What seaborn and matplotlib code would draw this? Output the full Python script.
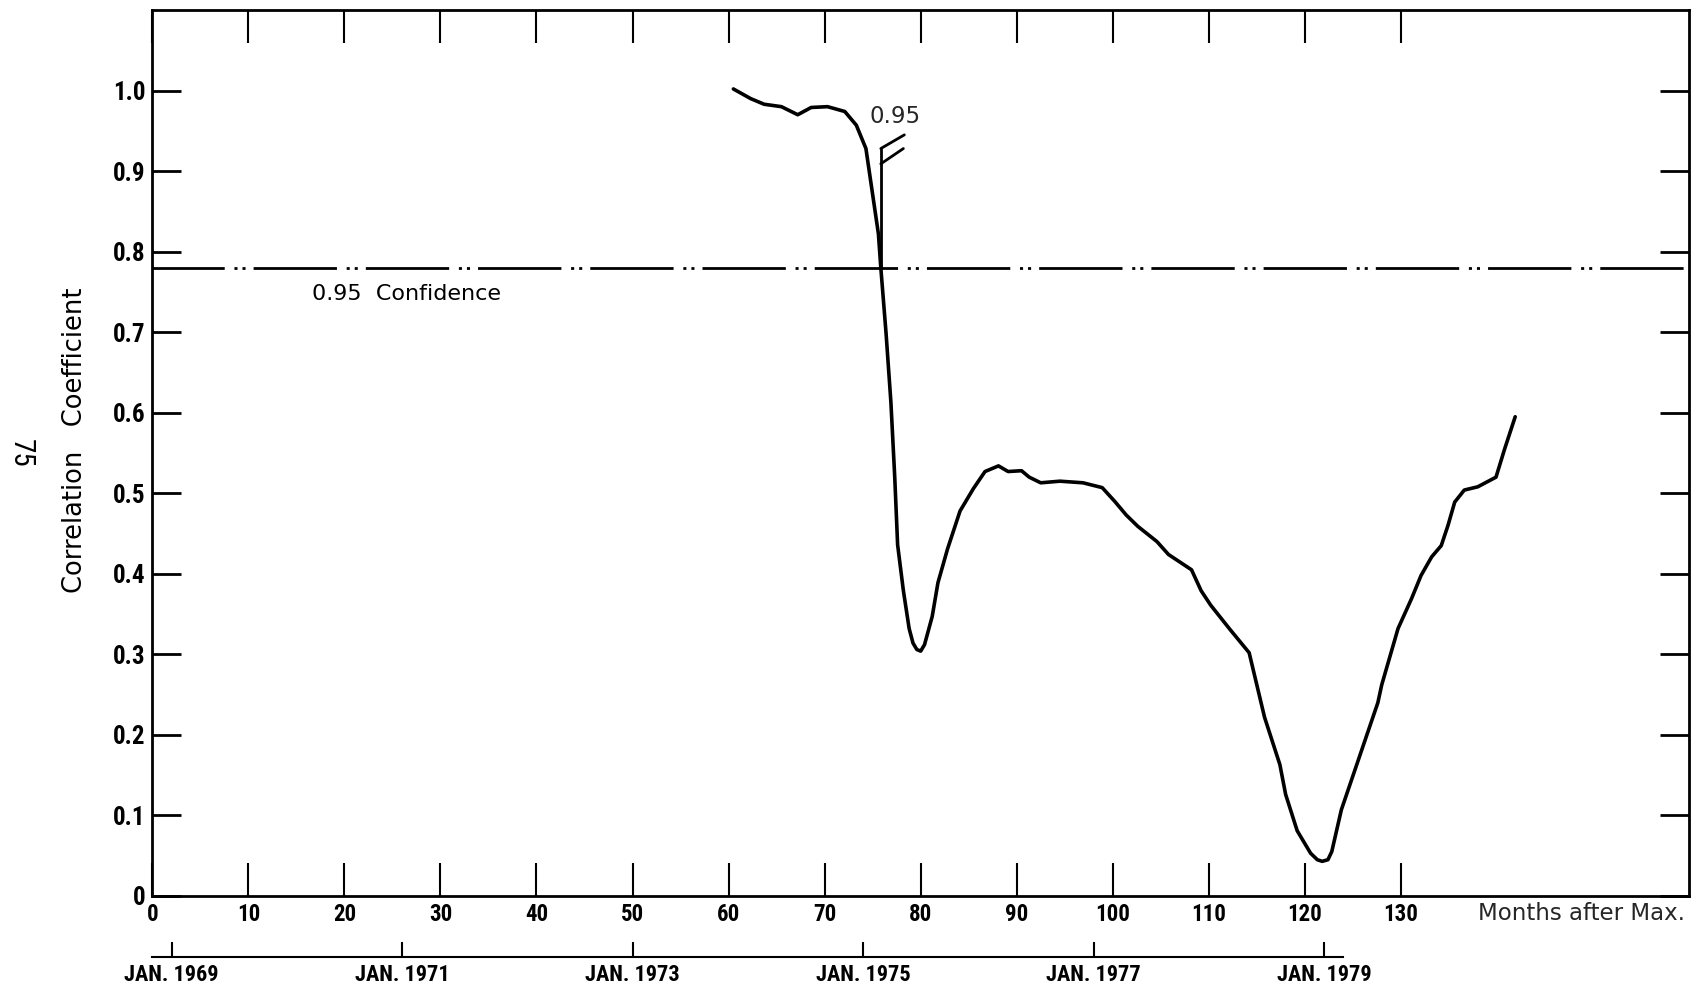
import matplotlib
matplotlib.use("Agg")
import matplotlib.pyplot as plt
import matplotlib.transforms as mtransforms
from matplotlib import font_manager
import pandas as pd
import seaborn as sns

# Correlation coefficient against months after maximum
months = [60.5, 62.3, 63.7, 65.5, 67.2, 68.6, 70.3, 72.1, 73.3, 74.3, 74.9, 75.6,
          75.85, 76.4, 76.9, 77.3, 77.6, 78.2, 78.8, 79.2, 79.6, 80.0, 80.4, 81.2, 81.8,
          82.8, 84.1, 85.5, 86.7, 88.1, 89.1, 90.5, 91.3, 92.5, 94.5, 96.9, 98.9, 100.2,
          101.4, 102.6, 104.6, 105.8, 108.2, 109.2, 110.2, 112.2, 114.2, 115.0, 115.8,
          117.4, 118.0, 119.2, 120.6, 121.3, 121.8, 122.4, 122.8, 123.8, 125.0, 126.0,
          127.6, 128.0, 129.7, 131.1, 132.1, 133.2, 134.2, 134.9, 135.6, 136.6, 138.0,
          139.9, 140.8, 141.9]
corr = [1.002, 0.990, 0.983, 0.980, 0.970, 0.979, 0.980, 0.974, 0.957, 0.928, 0.879, 0.822,
        0.780, 0.698, 0.613, 0.520, 0.436, 0.379, 0.332, 0.314, 0.306, 0.304, 0.312, 0.347,
        0.389, 0.431, 0.478, 0.506, 0.527, 0.534, 0.527, 0.528, 0.520, 0.513, 0.515, 0.513,
        0.507, 0.490, 0.473, 0.459, 0.440, 0.424, 0.405, 0.379, 0.361, 0.331, 0.302, 0.262,
        0.222, 0.163, 0.126, 0.081, 0.053, 0.045, 0.043, 0.045, 0.055, 0.107, 0.149, 0.184,
        0.240, 0.262, 0.332, 0.369, 0.398, 0.421, 0.435, 0.460, 0.489, 0.504, 0.508, 0.520,
        0.555, 0.595]

confidence_level = 0.78
confidence_label = "0.95  Confidence"
crossing_label = "0.95"

x_ticks = [0, 10, 20, 30, 40, 50, 60, 70, 80, 90, 100, 110, 120, 130]
y_ticks = [0.0, 0.1, 0.2, 0.3, 0.4, 0.5, 0.6, 0.7, 0.8, 0.9, 1.0]
y_tick_labels = ["0", "0.1", "0.2", "0.3", "0.4", "0.5", "0.6", "0.7", "0.8", "0.9", "1.0"]

date_months = [2, 26, 50, 74, 98, 122]
date_labels = ["JAN. 1969", "JAN. 1971", "JAN. 1973", "JAN. 1975", "JAN. 1977", "JAN. 1979"]
date_span = (0, 124)

sns.set_theme(style="white")
plt.rcParams["font.family"] = ["DejaVu Sans"]
plt.rcParams["lines.scale_dashes"] = False

installed = {f.name for f in font_manager.fontManager.ttflist}
narrow = next((n for n in ["Liberation Sans Narrow", "DejaVu Sans Condensed", "Roboto Condensed"]
               if n in installed), "DejaVu Sans")

fig = plt.figure(figsize=(16.96, 9.92), dpi=100)
ax = fig.add_axes([0.0898, 0.0968, 0.9061, 0.8931])

df = pd.DataFrame({"month": months, "r": corr})
sns.lineplot(data=df, x="month", y="r", ax=ax, color="black", linewidth=2.6,
             sort=False, estimator=None)
for ln in ax.get_lines():
    ln.set_solid_joinstyle("round")
    ln.set_solid_capstyle("round")

# 0.95 confidence level, long dash followed by two dots
ax.axhline(confidence_level, color="black", lw=2.0,
           linestyle=(8, (60, 7, 2.2, 3.6, 2.2, 5.8)))
ax.text(16.6, 0.748, confidence_label, fontsize=16, ha="left", va="center", color="black")

# marker where the curve crosses the confidence level
cross_x = months[corr.index(confidence_level)]
ax.plot([cross_x, cross_x], [confidence_level, 0.928], color="black", lw=2.0)
ax.plot([cross_x, cross_x + 2.45], [0.928, 0.945], color="black", lw=2.0)
ax.plot([cross_x, cross_x + 2.35], [0.909, 0.928], color="black", lw=2.0)
ax.text(cross_x + 1.45, 0.968, crossing_label, fontsize=16.5, ha="center", va="center")

ax.set_xlim(0, 160)
ax.set_ylim(0, 1.1)
ax.set_xlabel("")
ax.set_ylabel("Correlation   Coefficient", fontsize=18.5, va="center", color="black")
ax.yaxis.set_label_coords(-0.0500, 0.5147)

for s in ax.spines.values():
    s.set_visible(True)
    s.set_color("black")
    s.set_linewidth(2.0)

ax.set_xticks(x_ticks)
ax.set_xticklabels([str(v) for v in x_ticks], fontfamily=narrow, fontsize=16.5, fontweight="bold")
ax.set_yticks(y_ticks)
ax.set_yticklabels(y_tick_labels, fontfamily=narrow, fontsize=18, fontweight="bold")
ax.tick_params(axis="x", direction="in", length=24, width=1.5, top=True, bottom=True,
               pad=5, colors="black")
ax.tick_params(axis="y", direction="in", length=21, width=2.0, left=True, right=True,
               pad=5, colors="black")

ax.text(159.6, -0.0195, "Months after Max.", fontsize=16.5, ha="right", va="center",
        transform=mtransforms.blended_transform_factory(ax.transData, ax.transAxes))

# calendar scale below the month axis
sec = ax.secondary_xaxis(-0.0685)
sec.set_ticks(date_months, labels=date_labels)
sec.tick_params(direction="in", length=11, width=1.5, pad=5, colors="black")
for lab in sec.get_xticklabels():
    lab.set_fontfamily(narrow)
    lab.set_fontsize(16)
    lab.set_fontweight("bold")
sec.spines["bottom"].set_bounds(*date_span)
sec.spines["bottom"].set_linewidth(1.5)
sec.spines["bottom"].set_color("black")

fig.text(0.0124, 0.5433, "75", rotation=-90, ha="center", va="center", fontsize=21,
         fontfamily=narrow, color="black")

fig.savefig("out.png", dpi=100, facecolor="white")
